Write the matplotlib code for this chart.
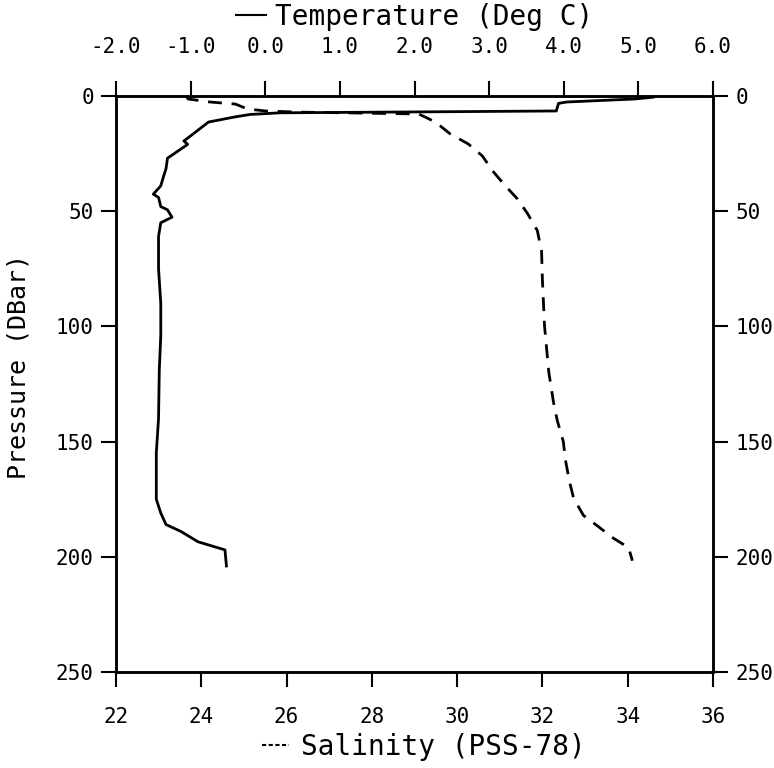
import matplotlib
matplotlib.use("Agg")
import matplotlib.pyplot as plt
from matplotlib.lines import Line2D

# Temperature profile (Deg C) vs pressure (DBar)
pressure_t = [0.5, 1.3, 2.6, 3.2, 6.5, 7.0, 7.3, 8.0, 9.1, 11.3, 17.3, 19.5, 21.0, 27.0,
              31.6, 34.6, 39.0, 42.6, 44.0, 48.0, 49.4, 52.6, 55.0, 61.0, 75.0, 90.0,
              104.0, 119.0, 140.0, 155.0, 175.0, 181.0, 186.0, 189.0, 193.5, 197.0, 204.0]
temperature = [5.20, 4.95, 4.04, 3.93, 3.90, 1.60, 0.20, -0.20, -0.41, -0.76, -1.00, -1.09,
               -1.04, -1.31, -1.33, -1.36, -1.40, -1.50, -1.43, -1.40, -1.31, -1.25, -1.40,
               -1.43, -1.43, -1.40, -1.40, -1.42, -1.43, -1.46, -1.46, -1.40, -1.33, -1.13,
               -0.90, -0.54, -0.52]

# Salinity profile (PSS-78) vs pressure (DBar)
pressure_s = [0.0, 1.3, 2.6, 3.5, 5.6, 6.5, 7.0, 7.8, 11.3, 16.5, 20.8, 26.0, 32.9, 39.0,
              44.6, 51.0, 58.4, 67.5, 80.0, 100.0, 120.0, 133.0, 141.0, 150.0, 158.0,
              167.0, 174.5, 182.0, 186.6, 192.0, 196.0, 201.7]
salinity = [23.65, 23.69, 24.20, 24.80, 25.08, 25.50, 26.30, 29.10, 29.49, 29.84, 30.26,
            30.59, 30.85, 31.13, 31.41, 31.65, 31.88, 31.98, 32.00, 32.05, 32.15, 32.26,
            32.35, 32.49, 32.54, 32.63, 32.73, 32.96, 33.29, 33.67, 34.02, 34.11]

temp_ticks = [-2.0, -1.0, 0.0, 1.0, 2.0, 3.0, 4.0, 5.0, 6.0]
sal_ticks = [22, 24, 26, 28, 30, 32, 34, 36]
pres_ticks = [0, 50, 100, 150, 200, 250]

plt.rcParams['font.family'] = ['DejaVu Sans Mono', 'DejaVu Sans']

W, H = 774, 768
fig = plt.figure(figsize=(W / 100, H / 100), dpi=100)
left, right, top, bottom = 116, 713, 96, 672
ax = fig.add_axes([left / W, 1 - bottom / H, (right - left) / W, (bottom - top) / H])
ax.set_xlim(sal_ticks[0], sal_ticks[-1])
ax.set_ylim(pres_ticks[-1], pres_ticks[0])

ax2 = ax.twiny()
ax2.set_xlim(temp_ticks[0], temp_ticks[-1])

ax.plot(salinity, pressure_s, color='k', lw=2.0, dashes=(5, 3.5))
ax2.plot(temperature, pressure_t, color='k', lw=2.0)

ax.set_xticks(sal_ticks)
ax.set_xticklabels([str(v) for v in sal_ticks])
ax.set_yticks(pres_ticks)
ax.set_yticklabels([str(v) for v in pres_ticks])
ax2.set_xticks(temp_ticks)
ax2.set_xticklabels([f"{v:.1f}" for v in temp_ticks])

for a in (ax, ax2):
    for s in a.spines.values():
        s.set_linewidth(1.8)

ax.tick_params(axis='y', direction='out', length=11, width=1.5, labelsize=15,
               left=True, right=True, labelleft=True, labelright=True, pad=5)
ax.tick_params(axis='x', direction='out', length=11, width=1.5, labelsize=15, pad=14)
ax2.tick_params(axis='x', direction='out', length=11, width=1.5, labelsize=15, pad=17)

ax.set_ylabel('Pressure (DBar)', fontsize=18)
ax.yaxis.set_label_coords(-0.143, 0.53)

h_t = Line2D([], [], color='k', lw=1.5)
h_s = Line2D([], [], color='k', lw=1.5, linestyle=(0, (2, 1.2)))
leg1 = ax2.legend([h_t], ['Temperature (Deg C)'], loc='center',
                  bbox_to_anchor=(0.5, 1.137), frameon=False, fontsize=20,
                  handlelength=1.1, handletextpad=0.3, borderpad=0, borderaxespad=0)
leg2 = ax.legend([h_s], ['Salinity (PSS-78)'], loc='center',
                 bbox_to_anchor=(0.515, -0.13), frameon=False, fontsize=20,
                 handlelength=1.0, handletextpad=0.4, borderpad=0, borderaxespad=0)

fig.savefig('out.png', dpi=100, facecolor='white')
